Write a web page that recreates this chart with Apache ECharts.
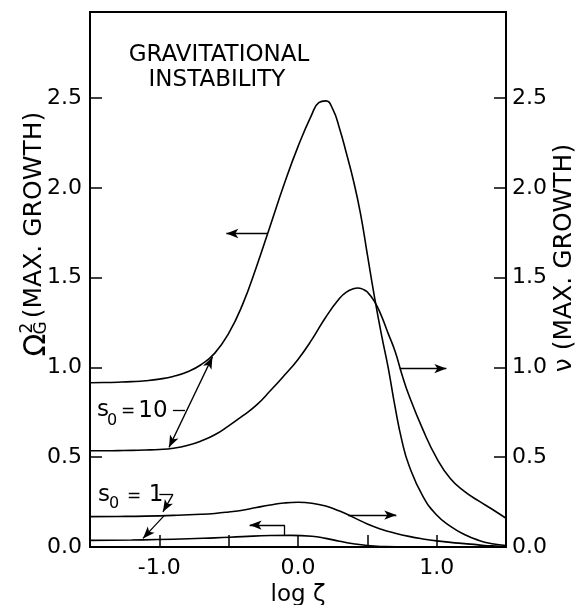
<!DOCTYPE html>
<html>
<head>
<meta charset="utf-8">
<script src="https://cdn.jsdelivr.net/npm/echarts@6/dist/echarts.min.js"></script>
<style>
html,body{margin:0;padding:0;background:#fff;}
#chart{width:575px;height:605px;}
</style>
</head>
<body>
<div id="chart"></div>
<script>
// ---- data ----
const xTickLabels = ['-1.0', '0.0', '1.0'];
const yTickLabels = ['0.0', '0.5', '1.0', '1.5', '2.0', '2.5'];

// Omega_G^2 (left axis), s0 = 10
const omegaS10X = [-1.5,-1.4,-1.3,-1.2,-1.1,-1.0,-0.9,-0.8,-0.7,-0.6,-0.5,-0.4,-0.3,-0.2,-0.1,0.0,0.1,0.15,0.2,0.25,0.3,0.35,0.4,0.45,0.5,0.55,0.6,0.65,0.7,0.75,0.8,0.9,1.0,1.1,1.2,1.3,1.4,1.5];
const omegaS10Y = [0.915,0.916,0.918,0.921,0.926,0.935,0.95,0.975,1.015,1.08,1.19,1.35,1.56,1.79,2.02,2.23,2.41,2.475,2.485,2.44,2.33,2.19,2.04,1.86,1.63,1.40,1.19,1.00,0.78,0.59,0.455,0.283,0.178,0.115,0.07,0.038,0.018,0.008];
// nu (right axis), s0 = 10
const nuS10X = [-1.5,-1.4,-1.3,-1.2,-1.1,-1.0,-0.9,-0.8,-0.7,-0.6,-0.5,-0.4,-0.3,-0.2,-0.1,0.0,0.1,0.2,0.3,0.35,0.4,0.43,0.47,0.5,0.55,0.6,0.65,0.7,0.75,0.8,0.9,1.0,1.1,1.2,1.3,1.4,1.5];
const nuS10Y = [0.536,0.536,0.537,0.538,0.54,0.543,0.55,0.565,0.59,0.625,0.675,0.73,0.79,0.87,0.955,1.045,1.155,1.28,1.385,1.42,1.438,1.443,1.435,1.42,1.37,1.29,1.19,1.09,0.96,0.845,0.655,0.495,0.38,0.31,0.258,0.21,0.16];
// nu (right axis), s0 = 1
const nuS1X = [-1.5,-1.3,-1.1,-0.9,-0.7,-0.6,-0.5,-0.4,-0.3,-0.2,-0.1,0.0,0.1,0.2,0.3,0.4,0.5,0.6,0.7,0.8,0.9,1.0,1.1,1.2,1.3,1.4,1.5];
const nuS1Y = [0.169,0.170,0.172,0.176,0.182,0.187,0.195,0.205,0.22,0.234,0.245,0.249,0.244,0.228,0.20,0.165,0.128,0.099,0.077,0.059,0.045,0.034,0.026,0.019,0.012,0.006,0.002];
// Omega_G^2 (left axis), s0 = 1
const omegaS1X = [-1.5,-1.2,-0.9,-0.6,-0.4,-0.2,-0.05,0.1,0.2,0.3,0.4,0.5,0.6,0.8,1.0,1.5];
const omegaS1Y = [0.037,0.039,0.043,0.051,0.058,0.064,0.065,0.06,0.048,0.032,0.018,0.008,0.003,0.0,0.0,0.0];

// ---- chart ----
const FONT = 'DejaVu Sans';
const pairs = (xs, ys) => xs.map((x, i) => [x, ys[i]]);
const isLabel = (v, list) => list.indexOf(v.toFixed(1)) >= 0 && Math.abs(v * 2 - Math.round(v * 2)) < 1e-6;

const lineStyle = { color: '#000', width: 1.6 };
const arrowStyle = { color: '#000', width: 1.3, type: 'solid' };

function seg(a, b, s1, s2) {
  return [{ coord: a, symbol: s1 }, { coord: b, symbol: s2 }];
}

function curve(name, xs, ys, yAxisIndex, marks) {
  const s = {
    name, type: 'line', data: pairs(xs, ys), yAxisIndex,
    smooth: 0.5, showSymbol: false, symbol: 'none',
    lineStyle, silent: true, animation: false
  };
  if (marks) {
    s.markLine = {
      silent: true, animation: false, symbolSize: [7, 12],
      lineStyle: arrowStyle, label: { show: false }, emphasis: { disabled: true },
      data: marks
    };
  }
  return s;
}

const yAxisBase = {
  type: 'value', min: 0, max: 2.98, interval: 0.5,
  splitLine: { show: false },
  axisLine: { show: true, onZero: false, lineStyle: { color: '#000', width: 2 } },
  axisTick: { show: true, inside: true, length: 12, lineStyle: { color: '#000', width: 1.5 } },
  axisLabel: {
    color: '#000', fontSize: 22, fontFamily: FONT,
    formatter: v => isLabel(v, yTickLabels) ? v.toFixed(1) : ''
  }
};

const txt = (text, x, y, size, opts) => Object.assign({
  type: 'text', x, y, silent: true,
  style: { text, fontSize: size, fontFamily: FONT, fill: '#000', align: 'center', verticalAlign: 'middle', textAlign: 'center', textVerticalAlign: 'middle' }
}, opts || {});
const ROT = { rotation: Math.PI / 2 };

const option = {
  animation: false,
  textStyle: { fontFamily: FONT },
  grid: { left: 90, right: 69, top: 12, bottom: 58, containLabel: false, outerBoundsMode: 'none',
          show: true, borderColor: '#000', borderWidth: 2, backgroundColor: 'transparent' },
  xAxis: {
    type: 'value', min: -1.5, max: 1.5, interval: 0.5,
    splitLine: { show: false },
    axisLine: { show: true, onZero: false, lineStyle: { color: '#000', width: 2 } },
    axisTick: { show: true, inside: true, length: 12, lineStyle: { color: '#000', width: 1.5 } },
    axisLabel: {
      color: '#000', fontSize: 22, fontFamily: FONT, margin: 10,
      formatter: v => isLabel(v, xTickLabels) ? v.toFixed(1) : ''
    },
    name: 'log ζ', nameLocation: 'middle', nameGap: 36,
    nameTextStyle: { color: '#000', fontSize: 23, fontFamily: FONT }
  },
  yAxis: [
    Object.assign({}, yAxisBase, { position: 'left', axisLabel: Object.assign({}, yAxisBase.axisLabel, { margin: 8 }) }),
    Object.assign({}, yAxisBase, { position: 'right', axisLabel: Object.assign({}, yAxisBase.axisLabel, { margin: 6 }) })
  ],
  series: [
    curve('Ω²G s0=10', omegaS10X, omegaS10Y, 0, [
      seg([-0.216, 1.746], [-0.517, 1.746], 'none', 'arrow'),
      seg([-0.902, 0.762], [-0.815, 0.762], 'none', 'none'),
      seg([-0.617, 1.059], [-0.93, 0.555], 'arrow', 'arrow')
    ]),
    curve('ν s0=10', nuS10X, nuS10Y, 1, [
      seg([0.734, 0.994], [1.07, 0.994], 'none', 'arrow')
    ]),
    curve('ν s0=1', nuS1X, nuS1Y, 1, [
      seg([0.361, 0.178], [0.709, 0.178], 'none', 'arrow')
    ]),
    curve('Ω²G s0=1', omegaS1X, omegaS1Y, 0, [
      seg([-0.096, 0.067], [-0.096, 0.122], 'none', 'none'),
      seg([-0.096, 0.122], [-0.349, 0.122], 'none', 'arrow'),
      seg([-1.0, 0.293], [-0.902, 0.293], 'none', 'none'),
      seg([-0.902, 0.293], [-0.974, 0.196], 'none', 'arrow'),
      seg([-0.965, 0.175], [-1.118, 0.048], 'none', 'arrow')
    ])
  ],
  graphic: [
    txt('GRAVITATIONAL', 219, 55, 23),
    txt('INSTABILITY', 217, 80, 23),
    // s0 = 10
    txt('s', 103, 410, 23),
    txt('0', 112, 421, 16),
    txt('=', 128, 412, 17),
    txt('10', 153, 411, 23),
    // s0 = 1
    txt('s', 104, 495, 23),
    txt('0', 114, 504, 16),
    txt('=', 134, 497, 17),
    txt('1', 156, 495, 23),
    // left axis name: Omega_G^2 (MAX. GROWTH)
    txt('Ω', 37, 345, 30, ROT),
    txt('2', 28, 328, 17, ROT),
    txt('G', 42, 328, 17, ROT),
    txt('(MAX. GROWTH)', 34, 215, 25, ROT),
    // right axis name
    txt('ν (MAX. GROWTH)', 564, 258, 25, ROT)
  ]
};

const chart = echarts.init(document.getElementById('chart'), null, { renderer: 'canvas' });
chart.setOption(option);
</script>
</body>
</html>
